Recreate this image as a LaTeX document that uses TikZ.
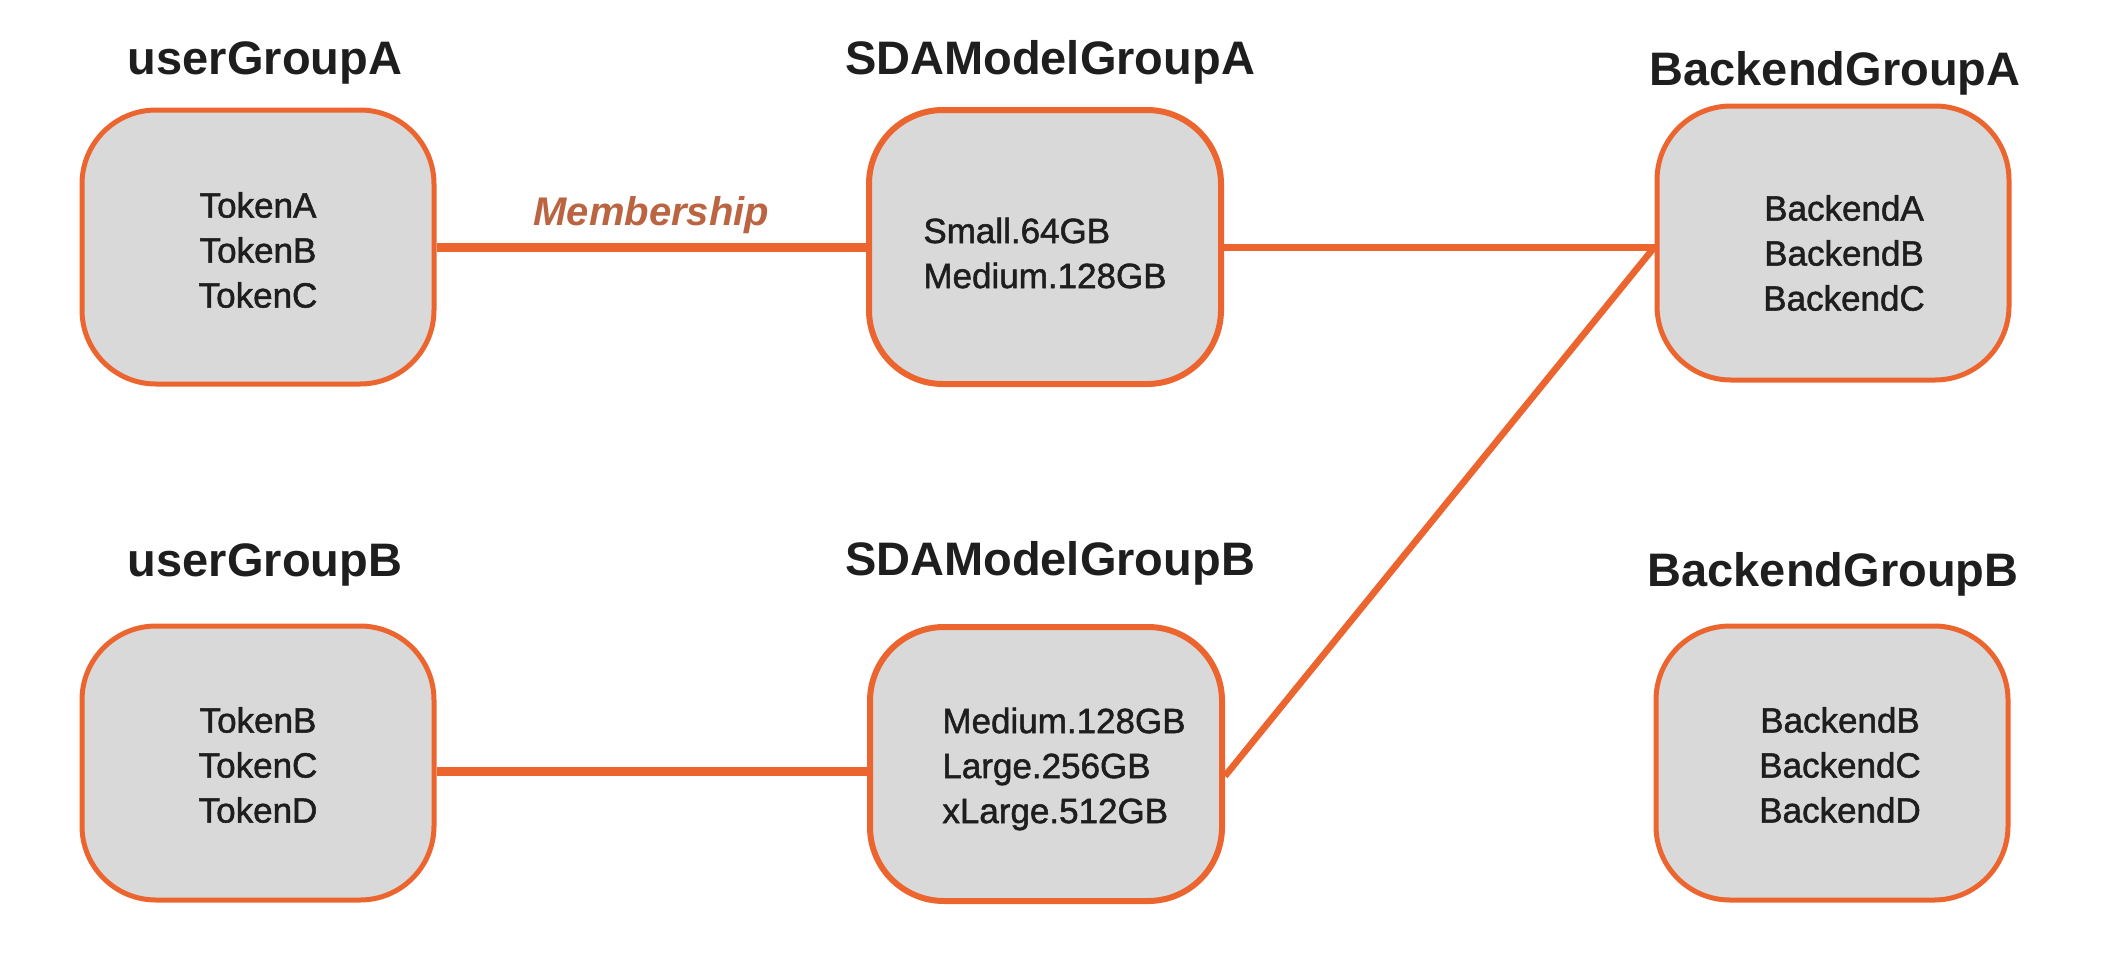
\documentclass[tikz,border=0pt]{standalone}
\usepackage{fontspec}
\setmainfont{Liberation Sans}
\newfontfamily\boxfont[FakeBold=1.5]{Liberation Sans}
\usetikzlibrary{positioning}
\usetikzlibrary{calc}

\definecolor{grporange}{RGB}{236,101,46}
\definecolor{memcolor}{RGB}{186,100,66}
\definecolor{boxgray}{RGB}{217,217,217}
\definecolor{textdark}{RGB}{30,30,30}

\begin{document}
\begin{tikzpicture}[x=0.5pt,y=-0.5pt]
  \tikzset{grpbox/.style={draw=grporange,fill=boxgray,line width=#1,rounded corners=37pt,
             minimum width=176pt,minimum height=137pt},
           grpbox/.default=2.5pt,
           grptext/.style={inner sep=0pt,align=center,text=textdark,
             font=\boxfont\fontsize{17.5}{22.5}\selectfont},
           grptitle/.style={anchor=base,text=textdark,font=\fontsize{23.5}{28}\selectfont\bfseries},
           memlabel/.style={anchor=base,text=memcolor,font=\fontsize{20}{24}\selectfont\bfseries\itshape},
           link/.style={grporange,line width=#1}}
  \useasboundingbox (0,0) rectangle (2108,970);

  % top row
  \node[grpbox] (ugA) at (258,247) {};
  \node[grpbox=3pt] (sdaA) at (1045,247) {};
  \node[grpbox] (bgA) at (1833,243) {};
  % bottom row
  \node[grpbox] (ugB) at (258,763) {};
  \node[grpbox=3pt] (sdaB) at (1046,764) {};
  \node[grpbox] (bgB) at (1832,763) {};

  \node[grptext] (ugAtxt) at ($(ugA)+(0,3)$) {TokenA\\TokenB\\TokenC};
  \node[grptext,align=left] (sdaAtxt) at ($(sdaA)+(0,6)$) {Small.64GB\\Medium.128GB};
  \node[grptext] (bgAtxt) at ($(bgA)+(11,10)$) {BackendA\\BackendB\\BackendC};
  \node[grptext] (ugBtxt) at ($(ugB)+(0,2)$) {TokenB\\TokenC\\TokenD};
  \node[grptext,align=left] (sdaBtxt) at ($(sdaB)+(18,5)$) {Medium.128GB\\Large.256GB\\xLarge.512GB};
  \node[grptext] (bgBtxt) at ($(bgB)+(8,2)$) {BackendB\\BackendC\\BackendD};

  \node[grptitle] (ugAt) at ($(ugA.north)+(7,-33)$) {userGroupA};
  \node[grptitle] (sdaAt) at ($(sdaA.north)+(5,-33)$) {SDAModelGroupA};
  \node[grptitle] (bgAt) at ($(bgA.north)+(2,-18)$) {BackendGroupA};
  \node[grptitle] (ugBt) at ($(ugB.north)+(7,-47)$) {userGroupB};
  \node[grptitle] (sdaBt) at ($(sdaB.north)+(4,-49)$) {SDAModelGroupB};
  \node[grptitle] (bgBt) at ($(bgB.north)+(1,-37)$) {BackendGroupB};

  \coordinate (bgAin) at (sdaA.east -| bgA.west);
  \coordinate (ugBout) at ($(ugB.east)+(0,8)$);
  \coordinate (sdaBout) at ($(sdaB.east)+(0,12)$);
  \draw[link=4.5pt] (ugA.east) -- node[memlabel,yshift=11pt] {Membership} (ugA.east -| sdaA.west);
  \draw[link=3.5pt] (sdaA.east) -- (bgAin);
  \draw[link=3.3pt] (sdaBout) -- (bgAin);
  \draw[link=4.5pt] (ugBout) -- (ugBout -| sdaB.west);
\end{tikzpicture}
\end{document}
